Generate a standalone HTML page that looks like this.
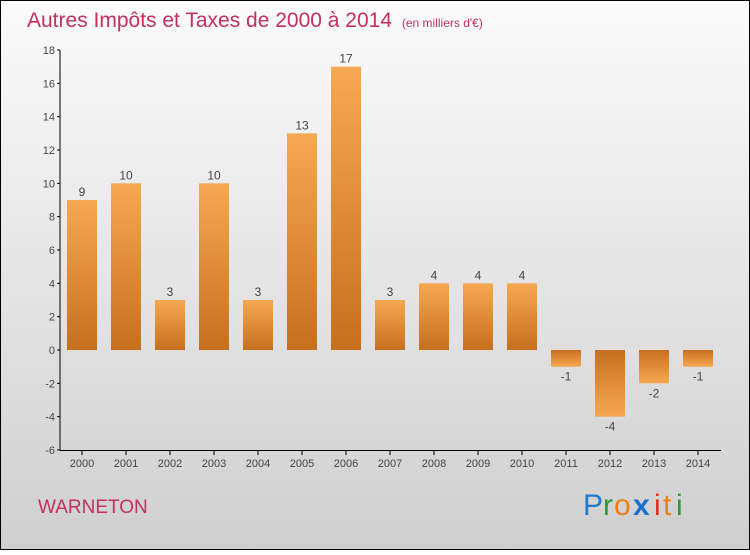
<!DOCTYPE html>
<html><head><meta charset="utf-8"><style>
html,body{margin:0;padding:0}
body{width:750px;height:550px;overflow:hidden;font-family:"Liberation Sans",sans-serif}
</style></head><body>
<svg id="chart" width="750" height="550" xmlns="http://www.w3.org/2000/svg">
<defs>
<linearGradient id="bg" x1="0" y1="0" x2="0" y2="1"><stop offset="0" stop-color="#fbfbfb"/><stop offset="1" stop-color="#cfcfcf"/></linearGradient>
<linearGradient id="pos" x1="0" y1="0" x2="0" y2="1"><stop offset="0" stop-color="#f7a852"/><stop offset="1" stop-color="#c6701e"/></linearGradient>
<linearGradient id="neg" x1="0" y1="0" x2="0" y2="1"><stop offset="0" stop-color="#c6701e"/><stop offset="1" stop-color="#f7a852"/></linearGradient>
</defs>
<rect x="0.5" y="0.5" width="749" height="549" fill="url(#bg)" stroke="#000"/>
<text x="27" y="27" font-size="21" fill="#c4305e">Autres Impôts et Taxes de 2000 à 2014 <tspan font-size="12" dx="4">(en milliers d'€)</tspan></text>
<g id="axes"></g>
<g id="bars"></g>
<text x="38" y="513" font-size="19" fill="#c4305e">WARNETON</text>
<g font-size="30">
<text x="583" y="515" fill="#1a7bd0">P</text><text x="603" y="515" fill="#2a9a3a">r</text><text x="614" y="515" fill="#f07c10">o</text><text x="633" y="515" fill="#1a6fd0" font-weight="bold">x</text><text x="654" y="515" fill="#e03020">i</text><text x="663" y="515" fill="#f07c10">t</text><text x="676" y="515" fill="#2a9a3a">i</text>
</g>
</svg>
<script>
const categories=["2000","2001","2002","2003","2004","2005","2006","2007","2008","2009","2010","2011","2012","2013","2014"];
const values=[9,10,3,10,3,13,17,3,4,4,4,-1,-4,-2,-1];
const yTicks=[-6,-4,-2,0,2,4,6,8,10,12,14,16,18];
const NS="http://www.w3.org/2000/svg";
const y=v=>350-v*(400/24);
const x=i=>82+i*44;
function mk(tag,attrs,parent,txt){const e=document.createElementNS(NS,tag);for(const k in attrs)e.setAttribute(k,attrs[k]);if(txt!==undefined)e.textContent=txt;parent.appendChild(e);return e;}
const axes=document.getElementById('axes'),bars=document.getElementById('bars');
let yl=mk('line',{x1:60,y1:y(18),x2:60,y2:y(-6),stroke:'#000'},axes);


let xl=mk('line',{x1:60,y1:450.5,x2:721,y2:450.5,stroke:'#000'},axes);


yTicks.forEach(t=>{
 mk('line',{x1:57,x2:60,y1:y(t),y2:y(t),stroke:'#000'},axes);
 let tl=mk('text',{x:55,y:y(t)+4,'font-size':11,'text-anchor':'end',fill:'#444'},axes,String(t));
 
 
});
categories.forEach((c,i)=>{
 mk('line',{x1:x(i),x2:x(i),y1:450,y2:455,stroke:'#000'},axes);
 let tl=mk('text',{x:x(i),y:467,'font-size':11,'text-anchor':'middle',fill:'#444'},axes,c);
 
 
 const v=values[i],top=Math.min(y(v),y(0)),h=Math.abs(y(v)-y(0));
 let r=mk('rect',{x:x(i)-15,y:top,width:30,height:h,fill:v>=0?'url(#pos)':'url(#neg)'},bars);
 
 
 let lb=mk('text',{x:x(i),y:v>=0?y(v)-4:y(v)+14,'font-size':12,'text-anchor':'middle',fill:'#444'},bars,String(v));
 
 
});
</script>
</body></html>
